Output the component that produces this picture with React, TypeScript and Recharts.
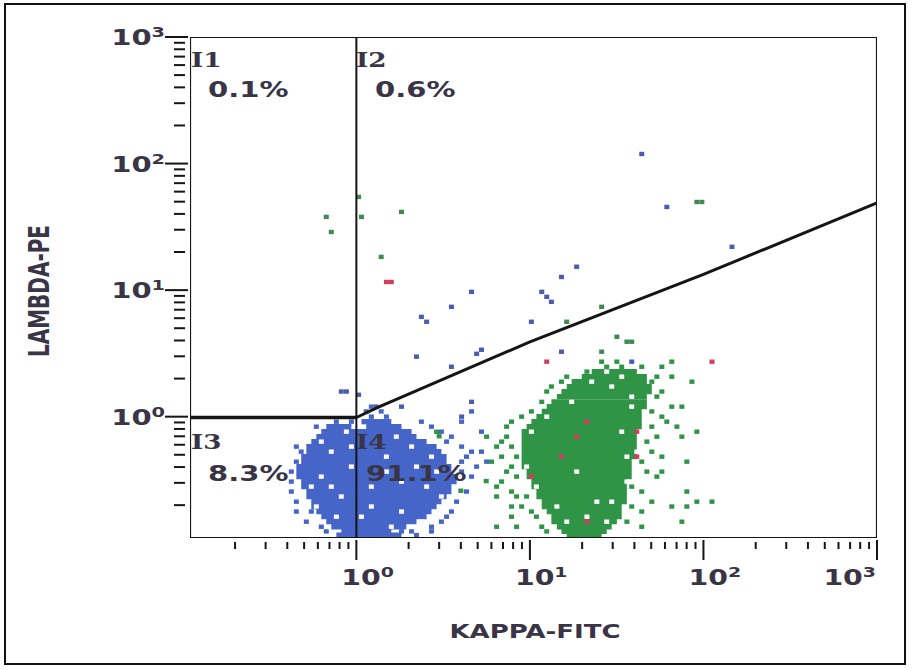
import React from 'react';
import { ScatterChart, Scatter, XAxis, YAxis } from 'recharts';

// ---------- axes ----------
const axisDomain: [number, number] = [0.11, 1000];
const kappaTicks = [0.2, 0.3, 0.4, 0.5, 0.6, 0.7, 0.8, 0.9, 1, 2, 3, 4, 5, 6, 7, 8, 9, 10, 20, 30, 40, 50, 60, 70, 80, 90, 100, 200, 300, 400, 500, 600, 700, 800, 900, 1000];
const lambdaTicks = [0.2, 0.3, 0.4, 0.5, 0.6, 0.7, 0.8, 0.9, 1, 2, 3, 4, 5, 6, 7, 8, 9, 10, 20, 30, 40, 50, 60, 70, 80, 90, 100, 200, 300, 400, 500, 600, 700, 800, 900, 1000];
const decadeLabels = [
  { value: 1, base: '10', exp: '0' },
  { value: 10, base: '10', exp: '1' },
  { value: 100, base: '10', exp: '2' },
  { value: 1000, base: '10', exp: '3' },
];
const xTitle = 'KAPPA-FITC';
const yTitle = 'LAMBDA-PE';
const quadrants = [
  { id: 'I1', pct: '0.1%' },
  { id: 'I2', pct: '0.6%' },
  { id: 'I3', pct: '8.3%' },
  { id: 'I4', pct: '91.1%' },
];

// ---------- gates ----------
const plotFrame = [
  { x: 0.11, y: 0.11 }, { x: 1000, y: 0.11 }, { x: 1000, y: 1000 }, { x: 0.11, y: 1000 }, { x: 0.11, y: 0.11 },
];
const gateVertical = [{ x: 1, y: 0.11 }, { x: 1, y: 1000 }];
const gateHorizontal = [{ x: 0.11, y: 0.985 }, { x: 1, y: 0.985 }];
const gateDiagonal = [{ x: 1, y: 0.985 }, { x: 1.36, y: 1.2 }, { x: 10, y: 3.9 }, { x: 100, y: 13.3 }, { x: 1000, y: 49 }];

// ---------- dense populations: rows [LAMBDA, KAPPA from, KAPPA to] ----------
const blueRows: [number, number, number][] = [
  [0.913, 1.07, 1.59],
  [0.834, 0.671, 0.936],
  [0.834, 1.14, 1.82],
  [0.761, 0.628, 2.08],
  [0.695, 0.588, 2.22],
  [0.635, 0.55, 2.54],
  [0.58, 0.515, 2.9],
  [0.529, 0.515, 3.09],
  [0.483, 0.481, 3.31],
  [0.441, 0.481, 3.31],
  [0.403, 0.451, 3.53],
  [0.368, 0.451, 3.53],
  [0.336, 0.451, 3.78],
  [0.307, 0.481, 3.78],
  [0.28, 0.481, 3.53],
  [0.256, 0.515, 3.53],
  [0.234, 0.515, 3.31],
  [0.213, 0.55, 3.09],
  [0.195, 0.55, 2.9],
  [0.178, 0.588, 2.71],
  [0.162, 0.628, 2.54],
  [0.148, 0.671, 2.22],
  [0.135, 0.717, 1.94],
  [0.124, 0.819, 1.59],
  [0.116, 0.767, 1.82],
];

const greenRows: [number, number, number][] = [
  [2.27, 22.7, 41.3],
  [2.07, 19.9, 47.2],
  [1.89, 17.4, 47.2],
  [1.73, 16.3, 50.4],
  [1.58, 15.2, 50.4],
  [1.44, 14.3, 47.2],
  [1.31, 13.3, 47.2],
  [1.2, 12.5, 47.2],
  [1.1, 11.7, 44.1],
  [1.0, 10.9, 44.1],
  [0.913, 10.2, 44.1],
  [0.834, 9.57, 44.1],
  [0.761, 8.96, 41.3],
  [0.695, 8.96, 41.3],
  [0.635, 8.96, 41.3],
  [0.58, 8.96, 41.3],
  [0.529, 8.96, 41.3],
  [0.483, 8.96, 41.3],
  [0.441, 8.96, 38.6],
  [0.403, 8.96, 38.6],
  [0.368, 9.57, 38.6],
  [0.336, 9.57, 38.6],
  [0.307, 10.2, 36.2],
  [0.28, 10.2, 36.2],
  [0.256, 10.9, 36.2],
  [0.234, 10.9, 36.2],
  [0.213, 11.7, 36.2],
  [0.195, 11.7, 33.8],
  [0.178, 12.5, 33.8],
  [0.162, 13.3, 33.8],
  [0.148, 13.3, 31.7],
  [0.135, 14.3, 29.6],
  [0.124, 15.2, 27.7],
  [0.116, 16.3, 25.9],
];

// ---------- single events [KAPPA, LAMBDA] ----------
const blueFringe: [number, number][] = [
  [1.14, 1.1], [1.22, 1.0], [1.39, 1.1], [1.49, 1.0], [1.22, 1.2], [2.37, 0.913], [4.04, 0.913], [4.61, 1.1],
  [0.936, 0.913], [0.767, 0.913], [0.588, 0.834],
  [2.71, 0.834], [3.09, 0.761], [3.53, 0.695], [4.04, 0.58], [4.61, 0.529], [5.26, 0.761], [5.26, 0.529],
  [4.04, 0.368], [4.61, 0.336], [4.31, 0.256], [3.78, 0.213], [3.53, 0.178], [3.09, 0.148], [3.31, 0.162],
  [2.71, 0.135], [4.04, 0.441], [5.63, 0.441], [4.93, 0.403], [2.71, 0.124], [3.31, 0.635], [4.31, 0.483],
  [0.422, 0.368], [0.422, 0.307], [0.422, 0.256], [0.451, 0.213], [0.451, 0.178], [0.55, 0.178],
  [0.515, 0.148], [0.628, 0.135], [0.671, 0.124], [0.481, 0.529], [0.451, 0.441], [0.451, 0.58],
  [1.82, 0.124], [2.08, 0.124], [2.22, 0.116],
];
const blueHoles: [number, number][] = [
  [0.717, 0.529], [0.936, 0.58], [1.49, 0.483], [2.08, 0.58], [2.71, 0.483], [0.628, 0.336], [1.22, 0.28],
  [1.82, 0.307], [2.54, 0.28], [3.09, 0.234], [0.819, 0.234], [0.55, 0.28], [1.22, 0.195], [1.82, 0.178],
  [0.767, 0.162], [2.37, 0.148], [1.07, 0.162], [1.59, 0.135], [0.588, 0.195], [0.936, 0.403], [2.22, 0.403],
  [0.876, 0.761], [1.7, 0.695], [0.628, 0.635], [2.9, 0.368], [1.49, 0.368], [0.717, 0.28],
];
const greenFringe: [number, number][] = [
  [6.87, 0.635], [7.84, 0.58], [6.87, 0.483], [8.38, 0.483], [7.84, 0.403], [8.38, 0.336], [6.87, 0.307],
  [7.84, 0.256], [6.43, 0.234], [8.38, 0.234], [9.57, 0.234], [7.84, 0.195], [8.96, 0.195], [10.2, 0.178],
  [7.84, 0.162], [10.9, 0.162], [8.38, 0.135], [6.43, 0.135], [11.7, 0.135], [12.5, 0.124], [7.34, 0.834],
  [7.84, 0.913], [8.96, 1.0], [10.2, 1.1], [11.7, 1.31], [12.5, 1.58], [13.3, 1.73], [15.2, 1.89], [16.3, 2.07],
  [7.34, 0.695], [6.43, 0.58], [6.01, 0.441], [7.34, 0.368], [6.43, 0.28], [5.63, 0.695],
  [3.0, 0.7], [2.9, 0.76], [4.0, 0.26], [5.6, 0.31],
  [44.1, 0.441], [47.2, 0.368], [53.9, 0.336], [38.6, 0.28], [44.1, 0.256], [50.4, 0.213], [38.6, 0.195],
  [44.1, 0.178], [36.2, 0.148], [44.1, 0.135], [80.2, 0.441], [65.7, 0.195], [80.2, 0.195], [91.6, 0.213],
  [112, 0.213], [80.2, 0.256], [75.1, 0.148], [57.6, 0.368], [53.9, 0.695], [75.1, 0.695], [91.6, 0.761],
  [50.4, 0.529], [57.6, 0.483], [47.2, 0.635], [50.4, 0.834], [61.5, 0.913], [70.3, 0.834], [57.6, 1.0],
  [50.4, 1.1], [57.6, 1.58], [65.7, 1.2], [75.1, 1.2], [53.9, 2.07], [65.7, 2.07], [85.8, 1.89], [50.4, 1.89],
  [53.9, 1.44],
  [25.9, 2.72], [31.7, 2.72], [65.7, 2.72], [27.7, 2.48], [33.8, 2.48], [44.1, 2.48], [57.6, 2.48], [21.3, 2.27],
];
const greenHoles: [number, number][] = [
  [36.2, 0.307], [10.9, 0.28], [14.3, 0.195], [24.3, 0.213], [29.6, 0.213], [16.3, 0.148], [21.3, 0.162],
  [27.7, 0.148], [18.6, 0.368], [41.3, 0.529], [17.4, 1.31], [38.6, 1.2], [33.8, 2.07], [38.6, 1.44],
  [12.5, 1.0], [10.2, 0.761], [33.8, 0.761], [29.6, 1.73], [22.7, 1.89], [27.7, 2.27], [9.57, 0.403], [36.2, 0.483],
];
const blueSparse: [number, number][] = [
  [44.1, 119], [61.5, 45.4], [146, 22.0], [18.6, 15.3], [15.2, 12.7], [4.61, 9.69], [3.53, 7.38], [11.7, 9.69],
  [12.5, 8.85], [13.3, 8.08], [2.37, 6.15], [2.54, 5.62], [10.2, 5.62], [2.22, 2.98], [4.93, 3.14], [5.26, 3.38],
  [3.53, 2.48], [15.2, 3.26], [38.6, 2.72], [0.819, 1.58], [0.876, 1.58], [4.61, 1.31], [4.04, 1.0], [1.82, 1.2],
  [1.3, 1.2], [1.03, 1.49],
];
const greenSparse: [number, number][] = [
  [0.671, 37.9], [0.717, 28.8], [1.03, 54.5], [1.07, 37.9], [1.82, 41.5], [1.39, 18.3], [91.6, 49.7], [97.9, 49.7],
  [25.9, 7.38], [16.3, 5.62], [31.7, 4.28], [36.2, 3.91], [38.6, 3.91], [25.9, 3.26],
];
const redEvents: [number, number][] = [
  [12.5, 2.72], [112, 2.72], [1.49, 11.6], [1.59, 11.6], [21.3, 0.913], [18.6, 0.695], [15.2, 0.483],
  [10.2, 0.336], [41.3, 0.483], [41.3, 0.761], [21.3, 0.148],
];

// ---------- styles ----------
const BLUE = '#4565c9';
const BLUE_DOT = '#4b5cb0';
const GREEN = '#2f9446';
const GREEN_DOT = '#3f8a52';
const RED = '#cf3f5c';
const HOLE = '#fbf7fb';
const INK = '#151515';
const TEXT = '#3a3546';
const FONT = '"DejaVu Sans", Verdana, sans-serif';
const SERIF = '"DejaVu Serif", serif';

const toPoints = (list: [number, number][]) => list.map(([x, y]) => ({ x, y }));
const toRunPoints = (rows: [number, number, number][]) =>
  rows.flatMap(([y, x1, x2]) => [{ x: x1, y }, { x: x2, y }]);

const emptyShape = () => <g />;
const cellShape = (fill: string) => (p: any) =>
  <rect x={p.cx - 2.5} y={p.cy - 2.2} width={5} height={4.4} fill={fill} />;
const runRenderer = (color: string) => (props: any) => {
  const pts = props.points || [];
  const segs: React.ReactNode[] = [];
  for (let i = 0; i + 1 < pts.length; i += 2) {
    segs.push(
      <line key={i} x1={pts[i].x} y1={pts[i].y} x2={pts[i + 1].x} y2={pts[i + 1].y} stroke={color} strokeWidth={5.3} />
    );
  }
  return <g>{segs}</g>;
};

const findLabel = (v: number) => decadeLabels.find((d) => Math.abs(d.value - v) < 1e-9);
const lastKappa = kappaTicks[kappaTicks.length - 1];

function KappaTick(props: any) {
  const { x, y, payload } = props;
  const lab = findLabel(payload.value);
  const major = !!lab;
  const isLast = Math.abs(payload.value - lastKappa) < 1e-9;
  return (
    <g>
      <line x1={x} x2={x} y1={y + (major ? 2 : 4)} y2={y + (major ? 22 : 11)} stroke={INK} strokeWidth={2} />
      {lab && (
        <g transform={`translate(${isLast ? x - 1 : x - 15},${y + 47}) scale(1.35,1)`}>
          <text x={0} y={0} textAnchor={isLast ? 'end' : 'start'} fontFamily={FONT} fontWeight="bold" fontSize={21} fill={TEXT}>
            {lab.base}
            <tspan dy={-8} fontSize={14}>{lab.exp}</tspan>
          </text>
        </g>
      )}
    </g>
  );
}

function LambdaTick(props: any) {
  const { x, y, payload } = props;
  const lab = findLabel(payload.value);
  const major = !!lab;
  return (
    <g>
      <line x1={x - (major ? 25 : 16)} x2={x - (major ? 2 : 5)} y1={y} y2={y} stroke={INK} strokeWidth={2} />
      {lab && (
        <g transform={`translate(${x - 25},${y + 8}) scale(1.38,1)`}>
          <text x={0} y={0} textAnchor="end" fontFamily={FONT} fontWeight="bold" fontSize={21} fill={TEXT}>
            {lab.base}
            <tspan dy={-8} fontSize={14}>{lab.exp}</tspan>
          </text>
        </g>
      )}
    </g>
  );
}

const quadrantPos: Record<string, { ix: number; iy: number; px: number; py: number }> = {
  I1: { ix: 191, iy: 67, px: 208, py: 97 },
  I2: { ix: 356, iy: 67, px: 375, py: 97 },
  I3: { ix: 191, iy: 449, px: 208, py: 481 },
  I4: { ix: 356, iy: 449, px: 366, py: 481 },
};

export default function App() {
  return (
    <div style={{ position: 'absolute', left: 0, top: 0, width: 912, height: 670, background: '#fff' }}>
      <ScatterChart width={912} height={670} margin={{ top: 37, right: 35, bottom: 0, left: 0 }}>
        <XAxis
          type="number"
          dataKey="x"
          scale="log"
          domain={axisDomain}
          allowDataOverflow
          ticks={kappaTicks}
          interval={0}
          height={132}
          axisLine={false}
          tickLine={false}
          tickSize={0}
          tickMargin={0}
          tick={<KappaTick />}
        />
        <YAxis
          type="number"
          dataKey="y"
          scale="log"
          domain={axisDomain}
          allowDataOverflow
          ticks={lambdaTicks}
          interval={0}
          width={190}
          axisLine={false}
          tickLine={false}
          tickSize={0}
          tickMargin={0}
          tick={<LambdaTick />}
        />
        <Scatter data={toRunPoints(blueRows)} fill={BLUE} shape={emptyShape} line={runRenderer(BLUE)} isAnimationActive={false} />
        <Scatter data={toRunPoints(greenRows)} fill={GREEN} shape={emptyShape} line={runRenderer(GREEN)} isAnimationActive={false} />
        <Scatter data={toPoints(blueFringe)} fill={BLUE} shape={cellShape(BLUE)} isAnimationActive={false} />
        <Scatter data={toPoints(greenFringe)} fill={GREEN} shape={cellShape(GREEN)} isAnimationActive={false} />
        <Scatter data={toPoints(blueHoles)} fill={HOLE} shape={cellShape(HOLE)} isAnimationActive={false} />
        <Scatter data={toPoints(greenHoles)} fill={HOLE} shape={cellShape(HOLE)} isAnimationActive={false} />
        <Scatter data={toPoints(blueSparse)} fill={BLUE_DOT} shape={cellShape(BLUE_DOT)} isAnimationActive={false} />
        <Scatter data={toPoints(greenSparse)} fill={GREEN_DOT} shape={cellShape(GREEN_DOT)} isAnimationActive={false} />
        <Scatter data={toPoints(redEvents)} fill={RED} shape={cellShape(RED)} isAnimationActive={false} />
        <Scatter data={gateVertical} fill={INK} shape={emptyShape} line={{ stroke: INK, strokeWidth: 2 }} isAnimationActive={false} />
        <Scatter data={gateHorizontal} fill={INK} shape={emptyShape} line={{ stroke: INK, strokeWidth: 3.5 }} isAnimationActive={false} />
        <Scatter data={gateDiagonal} fill={INK} shape={emptyShape} line={{ stroke: INK, strokeWidth: 3 }} isAnimationActive={false} />
        <Scatter data={plotFrame} fill={INK} shape={emptyShape} line={{ stroke: INK, strokeWidth: 2.2, strokeLinejoin: 'miter' }} isAnimationActive={false} />
      </ScatterChart>
      <svg width={912} height={670} style={{ position: 'absolute', left: 0, top: 0, pointerEvents: 'none' }}>
        {quadrants.map((q) => {
          const p = quadrantPos[q.id];
          return (
            <g key={q.id}>
              <g transform={`translate(${p.ix},${p.iy}) scale(1.25,1)`}>
                <text x={0} y={0} fontFamily={SERIF} fontWeight="bold" fontSize={21} fill={TEXT}>{q.id}</text>
              </g>
              <g transform={`translate(${p.px},${p.py}) scale(1.32,1)`}>
                <text x={0} y={0} fontFamily={FONT} fontWeight="bold" fontSize={22} fill={TEXT}>{q.pct}</text>
              </g>
            </g>
          );
        })}
        <g transform="translate(535,638) scale(1.3,1)">
          <text x={0} y={0} textAnchor="middle" fontFamily={FONT} fontWeight="bold" fontSize={20} fill={TEXT}>{xTitle}</text>
        </g>
        <g transform="translate(49,291) scale(1.45,1) rotate(-90)">
          <text x={0} y={0} textAnchor="middle" fontFamily={FONT} fontWeight="bold" fontSize={20} fill={TEXT}>{yTitle}</text>
        </g>
      </svg>
      <div style={{ position: 'absolute', left: 4, top: 3, width: 902, height: 662, border: '2px solid #111', boxSizing: 'border-box', pointerEvents: 'none' }} />
    </div>
  );
}
